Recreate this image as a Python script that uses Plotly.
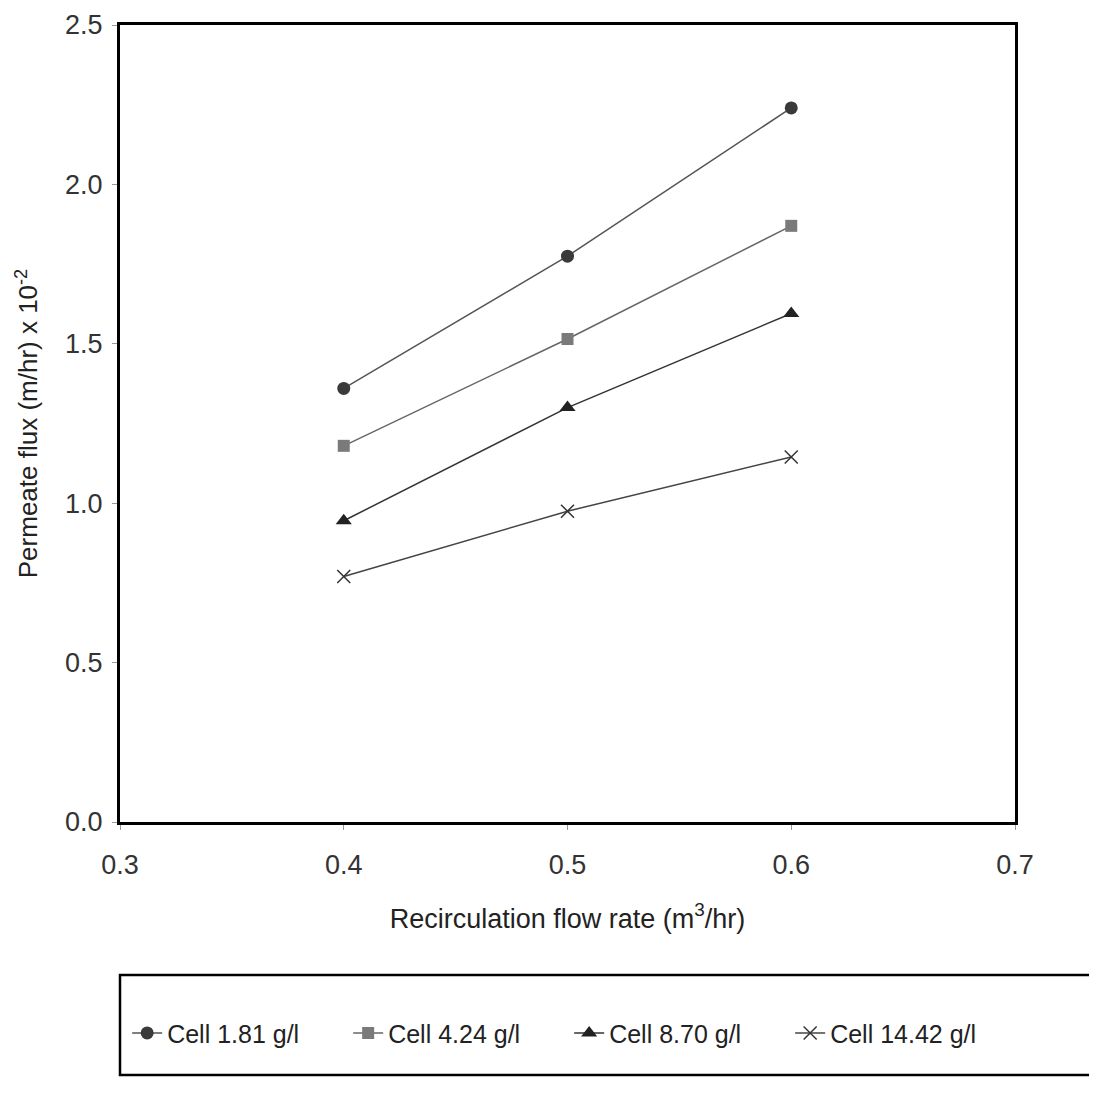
import plotly.graph_objects as go

flow_rate = [0.4, 0.5, 0.6]

cell_181 = [1.36, 1.775, 2.24]
cell_424 = [1.18, 1.515, 1.87]
cell_870 = [0.945, 1.30, 1.595]
cell_1442 = [0.77, 0.975, 1.145]

series_names = ['Cell 1.81 g/l', 'Cell 4.24 g/l', 'Cell 8.70 g/l', 'Cell 14.42 g/l']

x_ticks = [0.3, 0.4, 0.5, 0.6, 0.7]
y_ticks = [0.0, 0.5, 1.0, 1.5, 2.0, 2.5]

fig = go.Figure()

styles = [
    dict(symbol='circle', color='#3a3a3a', size=13),
    dict(symbol='square', color='#7a7a7a', size=12),
    dict(symbol='triangle-up', color='#222222', size=14),
    dict(symbol='x-thin', color='#333333', size=13, line=dict(width=1.5, color='#333333')),
]
line_colors = ['#555555', '#666666', '#333333', '#444444']

for name, vals, st, lc in zip(series_names, [cell_181, cell_424, cell_870, cell_1442], styles, line_colors):
    fig.add_trace(go.Scatter(
        x=flow_rate, y=vals, name=name, mode='lines+markers',
        line=dict(color=lc, width=1.5),
        marker=st,
    ))

# legend frame
fig.add_shape(type='rect', xref='paper', yref='paper',
              x0=0, x1=1.12, y0=-0.3174, y1=-0.192,
              line=dict(color='black', width=2.5), fillcolor='rgba(0,0,0,0)')

fig.update_layout(
    width=1097, height=1101,
    margin=dict(l=112, r=90, t=17, b=287),
    plot_bgcolor='white', paper_bgcolor='white',
    font=dict(family='Liberation Sans, Arial, sans-serif', size=24, color='#333333'),
    legend=dict(orientation='h', x=0.008, y=-0.265, xanchor='left', yanchor='middle',
                font=dict(size=25, color='#222222'), bgcolor='rgba(0,0,0,0)',
                entrywidth=176, itemwidth=30, tracegroupgap=0),
)

fig.update_xaxes(
    range=[0.3, 0.7], tickvals=x_ticks, ticktext=[f'{v:.1f}' for v in x_ticks],
    showgrid=False, zeroline=False, showline=True, linecolor='black', linewidth=3,
    mirror=True, ticks='outside', ticklen=5, tickcolor='#999999',
    ticklabelstandoff=12, tickfont=dict(size=27), automargin=False,
    title=dict(text='Recirculation flow rate (m<sup>3</sup>/hr)', standoff=30,
               font=dict(size=27, color='#222222')),
)
fig.update_yaxes(
    range=[0, 2.5], tickvals=y_ticks, ticktext=[f'{v:.1f}' for v in y_ticks],
    showgrid=False, zeroline=False, showline=True, linecolor='black', linewidth=3,
    mirror=True, ticks='outside', ticklen=5, tickcolor='#999999',
    ticklabelstandoff=4, tickfont=dict(size=27), automargin=False,
    title=dict(text='Permeate flux (m/hr) x 10<sup>-2</sup>', standoff=20,
               font=dict(size=26, color='#222222')),
)

fig.write_html('out.html')
